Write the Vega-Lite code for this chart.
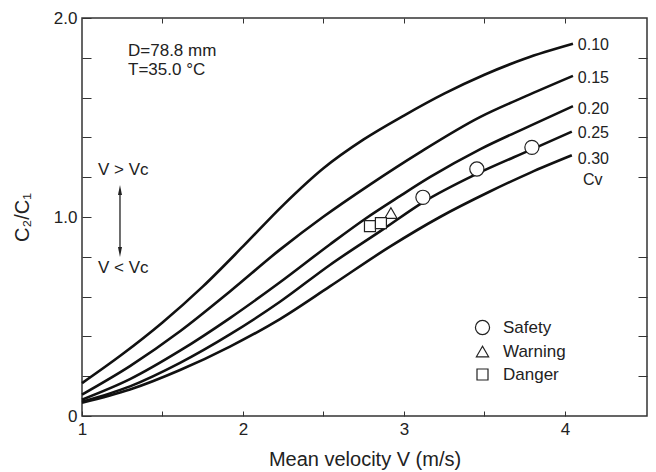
{
  "$schema": "https://vega.github.io/schema/vega-lite/v6.json",
  "width": 565,
  "height": 398,
  "autosize": {"type": "none"},
  "padding": {"left": 82, "top": 18, "right": 9, "bottom": 56},
  "background": "white",
  "config": {
    "view": {"stroke": "#333", "strokeWidth": 1.5},
    "font": "Liberation Sans",
    "axis": {
      "domain": false,
      "grid": false,
      "tickColor": "#333",
      "tickWidth": 1,
      "labelColor": "#222",
      "titleColor": "#222",
      "labelFont": "Liberation Sans",
      "titleFont": "Liberation Sans",
      "labelFontSize": 17,
      "titleFontSize": 20,
      "titleFontWeight": "normal"
    }
  },
  "datasets": {
    "curves": [
      {"cv": "0.10", "v": 1.0, "c": 0.165}, {"cv": "0.10", "v": 1.25, "c": 0.31}, {"cv": "0.10", "v": 1.5, "c": 0.47}, {"cv": "0.10", "v": 1.75, "c": 0.65}, {"cv": "0.10", "v": 2.0, "c": 0.852}, {"cv": "0.10", "v": 2.25, "c": 1.06}, {"cv": "0.10", "v": 2.5, "c": 1.245}, {"cv": "0.10", "v": 2.75, "c": 1.39}, {"cv": "0.10", "v": 3.0, "c": 1.51}, {"cv": "0.10", "v": 3.25, "c": 1.62}, {"cv": "0.10", "v": 3.5, "c": 1.715}, {"cv": "0.10", "v": 3.75, "c": 1.795}, {"cv": "0.10", "v": 4.05, "c": 1.87},
      {"cv": "0.15", "v": 1.0, "c": 0.108}, {"cv": "0.15", "v": 1.298, "c": 0.251}, {"cv": "0.15", "v": 1.609, "c": 0.426}, {"cv": "0.15", "v": 1.919, "c": 0.626}, {"cv": "0.15", "v": 2.23, "c": 0.836}, {"cv": "0.15", "v": 2.497, "c": 1.0}, {"cv": "0.15", "v": 2.789, "c": 1.163}, {"cv": "0.15", "v": 3.099, "c": 1.325}, {"cv": "0.15", "v": 3.472, "c": 1.502}, {"cv": "0.15", "v": 3.783, "c": 1.616}, {"cv": "0.15", "v": 4.05, "c": 1.709},
      {"cv": "0.20", "v": 1.0, "c": 0.082}, {"cv": "0.20", "v": 1.298, "c": 0.185}, {"cv": "0.20", "v": 1.609, "c": 0.328}, {"cv": "0.20", "v": 1.919, "c": 0.492}, {"cv": "0.20", "v": 2.23, "c": 0.672}, {"cv": "0.20", "v": 2.54, "c": 0.862}, {"cv": "0.20", "v": 2.758, "c": 0.99}, {"cv": "0.20", "v": 2.975, "c": 1.105}, {"cv": "0.20", "v": 3.161, "c": 1.2}, {"cv": "0.20", "v": 3.472, "c": 1.34}, {"cv": "0.20", "v": 3.783, "c": 1.458}, {"cv": "0.20", "v": 4.05, "c": 1.557},
      {"cv": "0.25", "v": 1.0, "c": 0.072}, {"cv": "0.25", "v": 1.298, "c": 0.149}, {"cv": "0.25", "v": 1.609, "c": 0.267}, {"cv": "0.25", "v": 1.919, "c": 0.41}, {"cv": "0.25", "v": 2.23, "c": 0.574}, {"cv": "0.25", "v": 2.54, "c": 0.759}, {"cv": "0.25", "v": 2.87, "c": 0.938}, {"cv": "0.25", "v": 3.118, "c": 1.074}, {"cv": "0.25", "v": 3.453, "c": 1.217}, {"cv": "0.25", "v": 3.795, "c": 1.34}, {"cv": "0.25", "v": 4.043, "c": 1.429},
      {"cv": "0.30", "v": 1.0, "c": 0.067}, {"cv": "0.30", "v": 1.298, "c": 0.133}, {"cv": "0.30", "v": 1.609, "c": 0.231}, {"cv": "0.30", "v": 1.919, "c": 0.349}, {"cv": "0.30", "v": 2.23, "c": 0.487}, {"cv": "0.30", "v": 2.54, "c": 0.651}, {"cv": "0.30", "v": 2.913, "c": 0.851}, {"cv": "0.30", "v": 3.224, "c": 1.0}, {"cv": "0.30", "v": 3.534, "c": 1.128}, {"cv": "0.30", "v": 3.783, "c": 1.222}, {"cv": "0.30", "v": 4.043, "c": 1.31}
    ],
    "markers": [
      {"status": "Safety", "v": 3.118, "c": 1.099},
      {"status": "Safety", "v": 3.453, "c": 1.241},
      {"status": "Safety", "v": 3.795, "c": 1.35},
      {"status": "Warning", "v": 2.919, "c": 1.02},
      {"status": "Danger", "v": 2.789, "c": 0.954},
      {"status": "Danger", "v": 2.857, "c": 0.969}
    ],
    "arrow": [
      {"part": "up", "v": 1.236, "c": 1.136, "c2": 0.824},
      {"part": "down", "v": 1.236, "c": 0.824, "c2": 0.824}
    ],
    "notes": [
      {"t": "D=78.8 mm", "v": 1.286, "c": 1.834},
      {"t": "T=35.0 °C", "v": 1.286, "c": 1.739},
      {"t": "V > Vc", "v": 1.099, "c": 1.236},
      {"t": "V < Vc", "v": 1.099, "c": 0.744}
    ],
    "labels": [
      {"t": "0.10", "v": 4.08, "c": 1.865},
      {"t": "0.15", "v": 4.08, "c": 1.70},
      {"t": "0.20", "v": 4.08, "c": 1.545},
      {"t": "0.25", "v": 4.08, "c": 1.42},
      {"t": "0.30", "v": 4.08, "c": 1.29},
      {"t": "Cv", "v": 4.112, "c": 1.185}
    ]
  },
  "layer": [
    {
      "mark": {"type": "rule", "color": "#555", "strokeWidth": 1.1},
      "encoding": {
        "y": {"datum": 1, "type": "quantitative", "scale": {"domain": [0, 2], "nice": false, "zero": false}, "axis": null}
      }
    },
    {
      "data": {"name": "arrow"},
      "transform": [{"filter": "datum.part === 'up'"}],
      "mark": {"type": "rule", "color": "#222", "strokeWidth": 1.3},
      "encoding": {
        "x": {"field": "v", "type": "quantitative", "scale": {"domain": [1, 4.51], "nice": false, "zero": false}, "axis": null},
        "y": {"field": "c", "type": "quantitative", "scale": {"domain": [0, 2], "nice": false, "zero": false}, "axis": null},
        "y2": {"field": "c2"}
      }
    },
    {
      "data": {"name": "arrow"},
      "transform": [{"filter": "datum.part === 'up'"}],
      "mark": {"type": "point", "shape": "M0,-1L0.4,1L-0.4,1Z", "size": 100, "filled": true, "color": "#222", "opacity": 1},
      "encoding": {
        "x": {"field": "v", "type": "quantitative", "axis": null},
        "y": {"field": "c", "type": "quantitative", "axis": null}
      }
    },
    {
      "data": {"name": "arrow"},
      "transform": [{"filter": "datum.part === 'down'"}],
      "mark": {"type": "point", "shape": "M0,1L0.4,-1L-0.4,-1Z", "size": 100, "filled": true, "color": "#222", "opacity": 1},
      "encoding": {
        "x": {"field": "v", "type": "quantitative", "axis": null},
        "y": {"field": "c", "type": "quantitative", "axis": null}
      }
    },
    {
      "data": {"name": "curves"},
      "mark": {"type": "line", "color": "#111", "strokeWidth": 2.6, "interpolate": "monotone"},
      "encoding": {
        "x": {
          "field": "v", "type": "quantitative",
          "scale": {"domain": [1, 4.51], "nice": false, "zero": false},
          "axis": {
            "orient": "bottom",
            "values": [1, 1.5, 2, 2.5, 3, 3.5, 4],
            "labelExpr": "datum.value % 1 === 0 ? format(datum.value, 'd') : ''",
            "tickSize": -5,
            "labelPadding": 10,
            "labelFlush": false,
            "labelOverlap": false,
            "title": "Mean velocity V (m/s)",
            "titlePadding": 12
          }
        },
        "y": {
          "field": "c", "type": "quantitative",
          "scale": {"domain": [0, 2], "nice": false, "zero": false},
          "axis": {
            "orient": "left",
            "values": [0, 0.2, 0.4, 0.6, 0.8, 1, 1.2, 1.4, 1.6, 1.8, 2],
            "labelExpr": "datum.value === 0 ? '0' : (datum.value === 1 || datum.value === 2) ? format(datum.value, '.1f') : ''",
            "tickSize": -9,
            "labelPadding": 14,
            "labelFlush": false,
            "labelOverlap": false,
            "title": "C₂/C₁",
            "titlePadding": 21
          }
        },
        "detail": {"field": "cv", "type": "nominal"}
      }
    },
    {
      "data": {"name": "markers"},
      "mark": {"type": "point", "filled": true, "fill": "white", "stroke": "#222", "strokeWidth": 1.2, "opacity": 1},
      "encoding": {
        "x": {
          "field": "v", "type": "quantitative",
          "axis": {"orient": "top", "values": [1.5, 2, 2.5, 3, 3.5, 4], "labels": false, "tickSize": -5, "title": null}
        },
        "y": {
          "field": "c", "type": "quantitative",
          "axis": {"orient": "right", "values": [0.2, 0.4, 0.6, 0.8, 1.2, 1.4, 1.6, 1.8], "labels": false, "tickSize": -9, "title": null}
        },
        "shape": {
          "field": "status", "type": "nominal",
          "scale": {"domain": ["Safety", "Warning", "Danger"], "range": ["circle", "triangle-up", "square"]},
          "legend": {
            "orient": "none", "legendX": 392, "legendY": 301, "title": null,
            "labelFontSize": 17, "labelFont": "Liberation Sans", "labelColor": "#222",
            "labelOffset": 12, "rowPadding": 5, "padding": 0,
            "symbolStrokeColor": "#222", "symbolFillColor": "white", "symbolStrokeWidth": 1.2
          }
        },
        "size": {
          "field": "status", "type": "nominal",
          "scale": {"type": "ordinal", "domain": ["Safety", "Warning", "Danger"], "range": [200, 150, 121]},
          "legend": {
            "orient": "none", "legendX": 392, "legendY": 301, "title": null,
            "labelFontSize": 17, "labelOffset": 12, "rowPadding": 5, "padding": 0
          }
        }
      }
    },
    {
      "data": {"name": "notes"},
      "mark": {"type": "text", "font": "Liberation Sans", "fontSize": 17, "align": "left", "baseline": "middle", "color": "#222"},
      "encoding": {
        "x": {"field": "v", "type": "quantitative", "axis": null},
        "y": {"field": "c", "type": "quantitative", "axis": null},
        "text": {"field": "t"}
      }
    },
    {
      "data": {"name": "labels"},
      "mark": {"type": "text", "font": "Liberation Sans", "fontSize": 16, "align": "left", "baseline": "middle", "color": "#222"},
      "encoding": {
        "x": {"field": "v", "type": "quantitative", "axis": null},
        "y": {"field": "c", "type": "quantitative", "axis": null},
        "text": {"field": "t"}
      }
    }
  ],
  "resolve": {"axis": {"x": "independent", "y": "independent"}}
}
